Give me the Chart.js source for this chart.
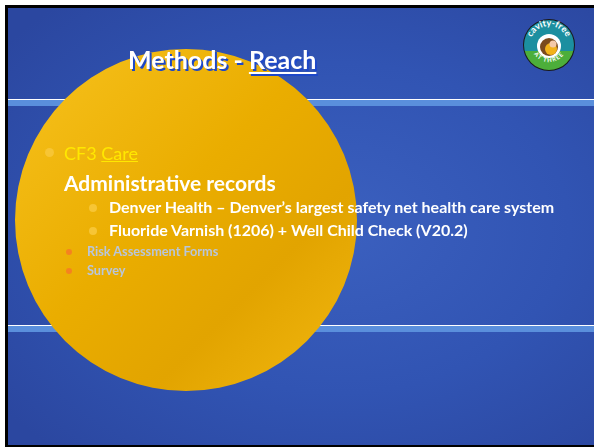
<!DOCTYPE html>
<html>
<head>
<meta charset="utf-8">
<script src="https://cdn.jsdelivr.net/npm/chart.js@4.4.1/dist/chart.umd.min.js"></script>
<style>
  html,body{margin:0;padding:0;background:#fff;}
  body{width:594px;height:447px;position:relative;overflow:hidden;font-family:"Lato","Open Sans",sans-serif;}
  #slide{position:absolute;left:5px;top:5px;width:589px;height:442px;background:#000;}
  #bg{position:absolute;left:8px;top:8px;width:586px;height:437px;
      background:radial-gradient(ellipse 420px 300px at 330px 220px,#3b60bf 0%,#3154b3 55%,#2b47a0 100%);}
  .band{position:absolute;left:8px;width:586px;}
  #chartWrap{position:absolute;left:15px;top:49px;width:342px;height:342px;}
  .t{position:absolute;white-space:nowrap;}
  #title{left:128px;top:44px;font-size:25px;font-weight:bold;color:#fff;text-shadow:2px 2px 0 #1d48c8;}
  #title u{text-decoration-thickness:2px;text-underline-offset:3px;}
  .dot{position:absolute;border-radius:50%;}
</style>
</head>
<body>
<div id="slide"></div>
<div id="bg"></div>
<div class="band" style="top:99px;height:1px;background:#ffffff;"></div>
<div class="band" style="top:100px;height:6px;background:#5a8fdc;"></div>
<div class="band" style="top:325px;height:1px;background:#ffffff;"></div>
<div class="band" style="top:326px;height:6px;background:#5a8fdc;"></div>

<div id="chartWrap"><canvas id="c" width="342" height="342"></canvas></div>

<div id="title" class="t">Methods - <u>Reach</u></div>

<svg style="position:absolute;left:522px;top:18px;" width="54" height="54" viewBox="0 0 54 54">
  <defs>
    <clipPath id="cp"><circle cx="27" cy="27" r="25"/></clipPath>
    <path id="arcTop" d="M 8 27 A 19 19 0 0 1 46 27"/>
    <path id="arcBot" d="M 10 32 A 18 18 0 0 0 44 32"/>
  </defs>
  <circle cx="27" cy="27" r="26" fill="#1a1a1a"/>
  <g clip-path="url(#cp)">
    <rect x="0" y="0" width="54" height="33" fill="#1c8fa0"/>
    <rect x="0" y="33" width="54" height="21" fill="#4cae3a"/>
  </g>
  <circle cx="27" cy="28" r="12" fill="#fff"/>
  <circle cx="27" cy="29" r="9" fill="#7a4a1e"/>
  <circle cx="29" cy="31" r="6" fill="#f2b21a"/>
  <circle cx="31" cy="26" r="3.5" fill="#f4c9a8"/>
  <text font-family="Lato,sans-serif" font-size="9" font-weight="bold" fill="#fff"><textPath href="#arcTop" startOffset="50%" text-anchor="middle">cavity-free</textPath></text>
  <text font-family="Lato,sans-serif" font-size="6" font-weight="bold" fill="#fff" letter-spacing="1"><textPath href="#arcBot" startOffset="50%" text-anchor="middle">AT THREE</textPath></text>
</svg>

<div class="dot" style="left:45px;top:148px;width:9px;height:9px;background:#f7c535;"></div>
<div class="t" style="left:64px;top:142px;font-size:18px;color:#ffe800;">CF3 <u>Care</u></div>
<div class="t" style="left:64px;top:170px;font-size:21px;font-weight:bold;color:#fff;">Administrative records</div>
<div class="dot" style="left:89px;top:204px;width:8px;height:8px;background:#f7c535;"></div>
<div class="t" style="left:109px;top:197px;font-size:16px;font-weight:bold;color:#fff;">Denver Health – Denver’s largest safety net health care system</div>
<div class="dot" style="left:89px;top:227px;width:8px;height:8px;background:#f7c535;"></div>
<div class="t" style="left:109px;top:220px;font-size:16px;font-weight:bold;color:#fff;">Fluoride Varnish (1206) + Well Child Check (V20.2)</div>
<div class="dot" style="left:66px;top:249px;width:6px;height:6px;background:#f58220;"></div>
<div class="t" style="left:87px;top:243px;font-size:12.7px;font-weight:bold;color:#b8c6dc;">Risk Assessment Forms</div>
<div class="dot" style="left:66px;top:268px;width:6px;height:6px;background:#f58220;"></div>
<div class="t" style="left:87px;top:262px;font-size:12.7px;font-weight:bold;color:#b8c6dc;">Survey</div>

<script>
const categories = ['CF3 Care'];
const values = [100];

function fillGrad(ctx){
  const chart = ctx.chart;
  const a = chart.chartArea;
  if(!a) return '#ecb000';
  const g = chart.ctx.createLinearGradient(a.left, a.top, a.right, a.bottom);
  g.addColorStop(0, '#f7c21e');
  g.addColorStop(0.45, '#eaad00');
  g.addColorStop(0.7, '#e2a400');
  g.addColorStop(1, '#f2b810');
  return g;
}

new Chart(document.getElementById('c'), {
  type: 'pie',
  data: {
    labels: categories,
    datasets: [{ data: values, backgroundColor: fillGrad, borderWidth: 0 }]
  },
  options: {
    responsive: false,
    animation: false,
    layout: { padding: 0 },
    plugins: { legend: { display: false }, tooltip: { enabled: false } }
  }
});
</script>
</body>
</html>
